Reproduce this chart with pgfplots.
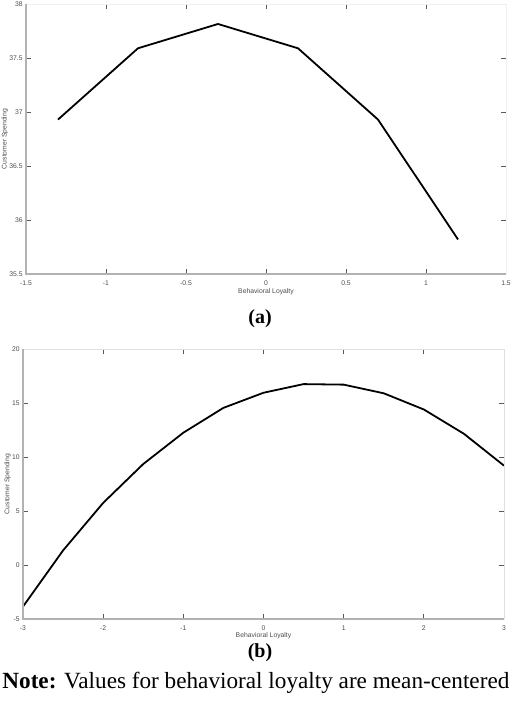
\documentclass[border=0pt]{standalone}
\usepackage{fontspec}
\setmainfont{Liberation Serif}
\newfontfamily\arial{Liberation Sans}
\usepackage{pgfplots}
\usepackage{pgfplotstable}
\pgfplotsset{compat=1.18}

% curve (a): six points
\pgfplotstableread{
x     y
-1.3  36.93
-0.8  37.59
-0.3  37.815
 0.2  37.59
 0.7  36.93
 1.2  35.82
}\curvea

% curve (b): thirteen points
\pgfplotstableread{
x     y
-3.0  -3.85
-2.5   1.35
-2.0   5.75
-1.5   9.35
-1.0  12.25
-0.5  14.55
 0.0  15.95
 0.5  16.75
 1.0  16.70
 1.5  15.90
 2.0  14.40
 2.5  12.15
 3.0   9.20
}\curveb

\pgfplotsset{
  matlab/.style={
    scale only axis, height=135pt,
    axis line style={draw=none},
    tick align=inside,
    major tick length=2.5pt,
    tick style={black!65, line width=0.4pt},
    /pgf/number format/assume math mode=true,
    tick label style={font=\arial\fontsize{3.4}{4}\selectfont, text=black!70, inner sep=0pt},
    xticklabel style={yshift=-3pt},
    yticklabel style={xshift=-1.5pt},
    label style={font=\arial\fontsize{3.4}{4}\selectfont, text=black!70, inner sep=0pt},
    xlabel={Behavioral Loyalty},
    ylabel={Customer Spending},
  }
}

\begin{document}
\begin{tikzpicture}
\useasboundingbox (0,0) rectangle (260pt,-352.5pt);

% (a)
\begin{axis}[matlab,
  at={(13pt,-137pt)}, anchor=south west, width=240pt,
  xmin=-1.5, xmax=1.5, ymin=35.5, ymax=38,
  xtick={-1.5,-1,...,1.5}, ytick={35.5,36,...,38},
  xlabel style={at={(axis description cs:0.5,-0.066)}, anchor=center},
  ylabel style={at={(axis description cs:-0.044,0.5)}, anchor=center},
  after end axis/.code={
    \draw[gray!12, line width=0.4pt] (rel axis cs:0,1) -- (rel axis cs:1,1) -- (rel axis cs:1,0);
    \draw[gray!60, line width=0.7pt] (rel axis cs:0,1) -- (rel axis cs:0,0) -- (rel axis cs:1,0);
  },
]
\addplot[black, line width=0.9pt] table[x=x, y=y] {\curvea};
\end{axis}

% (b)
\begin{axis}[matlab,
  at={(11.5pt,-309.5pt)}, anchor=south west, width=240.5pt,
  xmin=-3, xmax=3, ymin=-5, ymax=20,
  xtick={-3,...,3}, ytick={-5,0,...,20},
  xlabel style={at={(axis description cs:0.5,-0.063)}, anchor=center},
  ylabel style={at={(axis description cs:-0.032,0.5)}, anchor=center},
  after end axis/.code={
    \draw[gray!25, line width=0.5pt] (rel axis cs:0,1) -- (rel axis cs:1,1) -- (rel axis cs:1,0);
    \draw[gray!60, line width=0.7pt] (rel axis cs:0,1) -- (rel axis cs:0,0) -- (rel axis cs:1,0);
  },
]
\addplot[black, line width=0.9pt] table[x=x, y=y] {\curveb};
\end{axis}

\node[font=\bfseries\fontsize{10}{12}\selectfont] at (130pt,-159.5pt) {(a)};
\node[font=\bfseries\fontsize{10}{12}\selectfont] at (130pt,-326.5pt) {(b)};
\node[anchor=base west, inner sep=0pt, font=\fontsize{11.6}{14}\selectfont]
  at (1pt,-344pt) {\textbf{Note:} Values for behavioral loyalty are mean-centered};
\end{tikzpicture}
\end{document}
